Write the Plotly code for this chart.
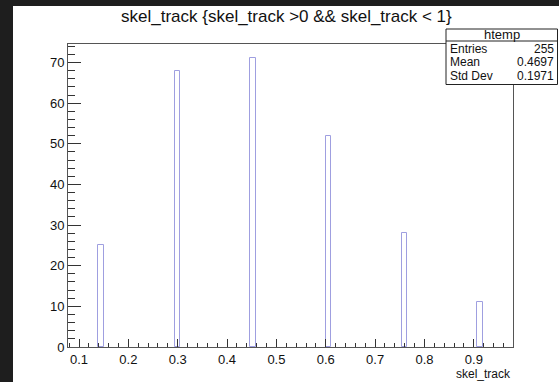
import plotly.graph_objects as go

# ---- data ----
bin_centers = [0.1446, 0.2996, 0.4526, 0.6060, 0.7600, 0.9126]
counts = [25, 68, 71, 52, 28, 11]
bin_width = 0.0112
x_range = [0.0777, 0.9794]
y_range = [0, 74.55]
x_ticks = [0.1, 0.2, 0.3, 0.4, 0.5, 0.6, 0.7, 0.8, 0.9]
y_ticks = [0, 10, 20, 30, 40, 50, 60, 70]
stats_names = ["Entries", "Mean", "Std Dev"]
stats_values = ["255", "0.4697", "0.1971"]
hist_name = "htemp"
title = "skel_track {skel_track >0 && skel_track < 1}"
x_title = "skel_track"

W, H = 559, 382
L, R, T, B = 68, 513, 44, 347
PW, PH = R - L, B - T


def px(x):
    return (x - L) / PW


def py(y):
    return (B - y) / PH


FONT = "Liberation Sans, Arial, Helvetica, sans-serif"

fig = go.Figure()
fig.add_trace(go.Bar(
    x=bin_centers, y=counts, width=bin_width,
    marker=dict(color="rgba(255,255,255,0)", line=dict(color="#9f9fe0", width=1)),
    showlegend=False, hoverinfo="x+y",
))

axis_common = dict(
    showgrid=False, zeroline=False, showline=True, linecolor="#555",
    linewidth=1, mirror=True, ticks="inside", tickcolor="#333",
    tickfont=dict(family=FONT, size=13, color="#111"),
)

fig.update_xaxes(
    range=x_range, tickvals=x_ticks, ticktext=[f"{v:g}" for v in x_ticks],
    ticklen=8, tickwidth=1,
    minor=dict(dtick=0.02, tick0=0, ticklen=4, ticks="inside", tickcolor="#333"),
    **axis_common,
)
fig.update_yaxes(
    range=y_range, tickvals=y_ticks, ticktext=[str(v) for v in y_ticks],
    ticklen=13, tickwidth=1,
    minor=dict(dtick=2, tick0=0, ticklen=7, ticks="inside", tickcolor="#333"),
    **axis_common,
)

shapes = []
# dark strips around the canvas (left and top)
shapes.append(dict(type="rect", xref="paper", yref="paper",
                   x0=px(-10), x1=px(13), y0=py(W + 200), y1=py(-10),
                   fillcolor="#1e1e1e", line=dict(width=0), layer="above"))
shapes.append(dict(type="rect", xref="paper", yref="paper",
                   x0=px(-10), x1=px(W + 10), y0=py(6), y1=py(-10),
                   fillcolor="#1e1e1e", line=dict(width=0), layer="above"))
# stats box
bx0, bx1, by0, by1 = 446, 557.5, 29, 84.5
shapes.append(dict(type="rect", xref="paper", yref="paper",
                   x0=px(bx0), x1=px(bx1), y0=py(by1), y1=py(by0),
                   fillcolor="white", line=dict(color="#222", width=1), layer="above"))
shapes.append(dict(type="line", xref="paper", yref="paper",
                   x0=px(bx0), x1=px(bx1), y0=py(41), y1=py(41),
                   line=dict(color="#222", width=1), layer="above"))

annotations = []
annotations.append(dict(text=title, xref="paper", yref="paper",
                        x=px(286), y=py(17), showarrow=False,
                        xanchor="center", yanchor="middle",
                        font=dict(family=FONT, size=17, color="#111")))
annotations.append(dict(text=x_title, xref="paper", yref="paper",
                        x=px(512), y=py(373.5), showarrow=False,
                        xanchor="right", yanchor="middle", borderpad=0,
                        font=dict(family=FONT, size=12, color="#111")))
annotations.append(dict(text=hist_name, xref="paper", yref="paper",
                        x=px((bx0 + bx1) / 2), y=py(35), showarrow=False,
                        xanchor="center", yanchor="middle", borderpad=0,
                        font=dict(family=FONT, size=13, color="#111")))
row_y = [48.5, 62, 75.5]
for name, val, yy in zip(stats_names, stats_values, row_y):
    annotations.append(dict(text=name, xref="paper", yref="paper",
                            x=px(449), y=py(yy), showarrow=False,
                            xanchor="left", yanchor="middle", borderpad=0,
                            font=dict(family=FONT, size=12, color="#111")))
    annotations.append(dict(text=val, xref="paper", yref="paper",
                            x=px(555), y=py(yy), showarrow=False,
                            xanchor="right", yanchor="middle", borderpad=0,
                            font=dict(family=FONT, size=12, color="#111")))

fig.update_layout(
    width=W, height=H,
    margin=dict(l=L, r=W - R, t=T, b=H - B, pad=0),
    paper_bgcolor="white", plot_bgcolor="white",
    shapes=shapes, annotations=annotations,
    bargap=0, showlegend=False,
)

fig.write_html("out.html")
